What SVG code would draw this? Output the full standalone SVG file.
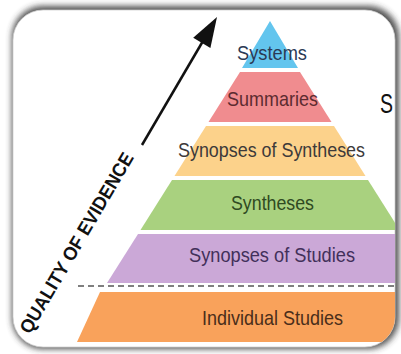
<svg xmlns="http://www.w3.org/2000/svg" width="401" height="354" viewBox="0 0 401 354">
  <defs>
    <filter id="shadow" x="-10%" y="-10%" width="120%" height="120%">
      <feGaussianBlur stdDeviation="3"/>
    </filter>
    <clipPath id="card">
      <rect x="13" y="10" width="382" height="337" rx="30" ry="30"/>
    </clipPath>
    <style>
      .lbl { font-family: "Liberation Sans", Arial, sans-serif; font-size: 21px; text-anchor: middle; }
      .axis { font-family: "Liberation Sans", Arial, sans-serif; font-size: 19px; font-weight: bold; fill: #111; }
    </style>
  </defs>
  <rect width="401" height="354" fill="#ffffff"/>
  <g id="card-bg">
    <rect x="12" y="6" width="387" height="343" rx="31" ry="31" fill="#333333" opacity="0.85" filter="url(#shadow)"/>
    <rect x="13" y="10" width="382" height="337" rx="30" ry="30" fill="#ffffff" stroke="#cfcfcf" stroke-width="0.8"/>
  </g>
  <g clip-path="url(#card)">
    <g id="systems">
      <polygon points="270,21 242,68 298,68" fill="#63c5ee"/>
      <text class="lbl" x="272" y="60" textLength="70" lengthAdjust="spacingAndGlyphs" fill="#2b3a55">Systems</text>
    </g>
    <g id="summaries">
      <polygon points="240,72 300,72 331.5,122 208.5,122" fill="#f08c8f"/>
      <text class="lbl" x="272.5" y="106" textLength="91" lengthAdjust="spacingAndGlyphs" fill="#5c2b30">Summaries</text>
    </g>
    <g id="synopses-of-syntheses">
      <polygon points="206,126 334,126 365.5,176 174.5,176" fill="#fcd28b"/>
      <text class="lbl" x="271.5" y="157" textLength="187" lengthAdjust="spacingAndGlyphs" fill="#3d3a3a">Synopses of Syntheses</text>
    </g>
    <g id="syntheses">
      <polygon points="172,180 368,180 399.5,230 140.5,230" fill="#a9d17f"/>
      <text class="lbl" x="272.5" y="210" textLength="83" lengthAdjust="spacingAndGlyphs" fill="#2f4a22">Syntheses</text>
    </g>
    <g id="synopses-of-studies">
      <polygon points="138,234 402,234 433,283 107,283" fill="#cba8d7"/>
      <text class="lbl" x="272" y="262" textLength="166" lengthAdjust="spacingAndGlyphs" fill="#42305a">Synopses of Studies</text>
    </g>
    <g id="individual-studies">
      <polygon points="100,292 440,292 440,342 77,342" fill="#f9a25b"/>
      <text class="lbl" x="272.5" y="325" textLength="141" lengthAdjust="spacingAndGlyphs" fill="#4a2e1a">Individual Studies</text>
    </g>
  </g>
  <g id="side-label">
    <text x="380" y="113" font-family="Liberation Sans, Arial, sans-serif" font-size="27" textLength="13" lengthAdjust="spacingAndGlyphs" fill="#111">S</text>
  </g>
  <g id="connectors">
    <line x1="78" y1="286" x2="395" y2="286" stroke="#555" stroke-width="1.5" stroke-dasharray="6,4"/>
    <line x1="142" y1="145" x2="203" y2="41" stroke="#111" stroke-width="2.5"/>
    <polygon points="217,17 210.4,48 193.2,37.8" fill="#111"/>
  </g>
  <g id="axis-label">
    <text class="axis" transform="translate(30,335) rotate(-59.6)" x="0" y="0" textLength="206" lengthAdjust="spacingAndGlyphs">QUALITY OF EVIDENCE</text>
  </g>
</svg>
